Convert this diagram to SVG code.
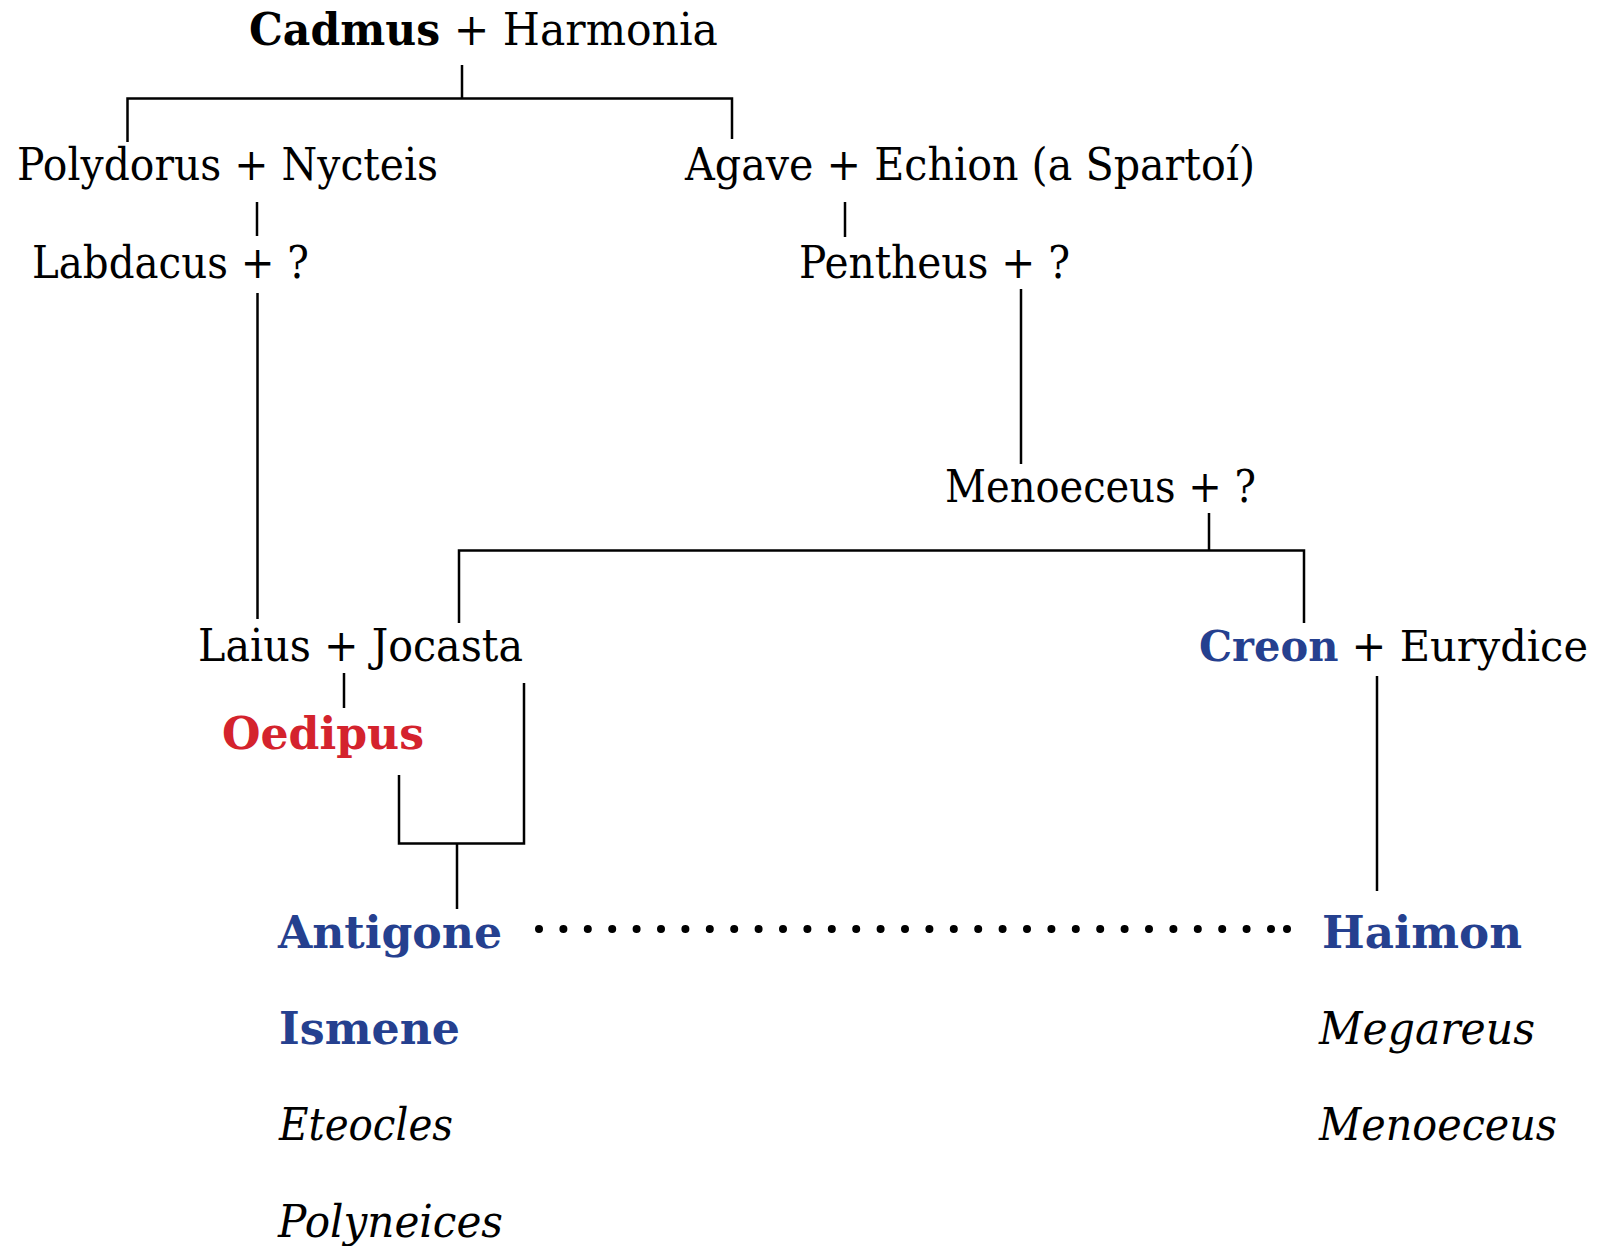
<svg xmlns="http://www.w3.org/2000/svg" width="1604" height="1246" viewBox="0 0 1604 1246">
<style>
text{font-family:"DejaVu Serif","Liberation Serif",serif;font-size:45px;fill:#000}
.b{font-weight:bold}
.i{font-style:italic}
.red{fill:#D4232D}
.blue{fill:#25408F}
.ln{fill:none;stroke:#000;stroke-width:2.5}
.dots{fill:none;stroke:#000;stroke-width:8;stroke-linecap:round;stroke-dasharray:0 24.4}
</style>
<rect width="1604" height="1246" fill="#fff"/>
<g id="connectors">
<path class="ln" d="M462,65V98.5M127.5,142V98.5H732V139"/>
<path class="ln" d="M257,202V236"/>
<path class="ln" d="M257.5,293V619"/>
<path class="ln" d="M845,202V237"/>
<path class="ln" d="M1021,289V464"/>
<path class="ln" d="M1209,513V550.5M459,623V550.5H1304V623"/>
<path class="ln" d="M344,673V708"/>
<path class="ln" d="M399,775V843.5H524V683M457,843.5V909"/>
<path class="ln" d="M1377,676V891"/>
<line class="dots" x1="539" y1="929" x2="1274" y2="929"/>
<circle cx="1287" cy="929" r="4"/>
</g>
<g id="cadmus"><text x="249" y="45" textLength="469" lengthAdjust="spacingAndGlyphs"><tspan class="b">Cadmus</tspan> + Harmonia</text></g>
<g id="polydorus"><text x="17" y="180" textLength="421" lengthAdjust="spacingAndGlyphs">Polydorus + Nycteis</text></g>
<g id="agave"><text x="685" y="180" textLength="570" lengthAdjust="spacingAndGlyphs">Agave + Echion (a Spartoí)</text></g>
<g id="labdacus"><text x="32" y="278" textLength="277" lengthAdjust="spacingAndGlyphs">Labdacus + ?</text></g>
<g id="pentheus"><text x="799" y="278" textLength="271" lengthAdjust="spacingAndGlyphs">Pentheus + ?</text></g>
<g id="menoeceus"><text x="945" y="502" textLength="311" lengthAdjust="spacingAndGlyphs">Menoeceus + ?</text></g>
<g id="laius"><text x="198" y="661" textLength="325" lengthAdjust="spacingAndGlyphs">Laius + Jocasta</text></g>
<g id="creon"><text x="1199" y="661" style="font-size:42px" textLength="389" lengthAdjust="spacingAndGlyphs"><tspan class="b blue">Creon</tspan> + Eurydice</text></g>
<g id="oedipus"><text class="b red" x="222" y="749" textLength="202" lengthAdjust="spacingAndGlyphs">Oedipus</text></g>
<g id="antigone"><text class="b blue" x="278" y="948" textLength="224" lengthAdjust="spacingAndGlyphs">Antigone</text></g>
<g id="haimon"><text class="b blue" x="1322" y="948" textLength="200" lengthAdjust="spacingAndGlyphs">Haimon</text></g>
<g id="ismene"><text class="b blue" x="279" y="1044" textLength="181" lengthAdjust="spacingAndGlyphs">Ismene</text></g>
<g id="megareus"><text class="i" x="1319" y="1044" textLength="216" lengthAdjust="spacingAndGlyphs">Megareus</text></g>
<g id="eteocles"><text class="i" x="279" y="1140" textLength="174" lengthAdjust="spacingAndGlyphs">Eteocles</text></g>
<g id="menoeceus2"><text class="i" x="1319" y="1140" textLength="238" lengthAdjust="spacingAndGlyphs">Menoeceus</text></g>
<g id="polyneices"><text class="i" x="278" y="1237" textLength="225" lengthAdjust="spacingAndGlyphs">Polyneices</text></g>
</svg>
